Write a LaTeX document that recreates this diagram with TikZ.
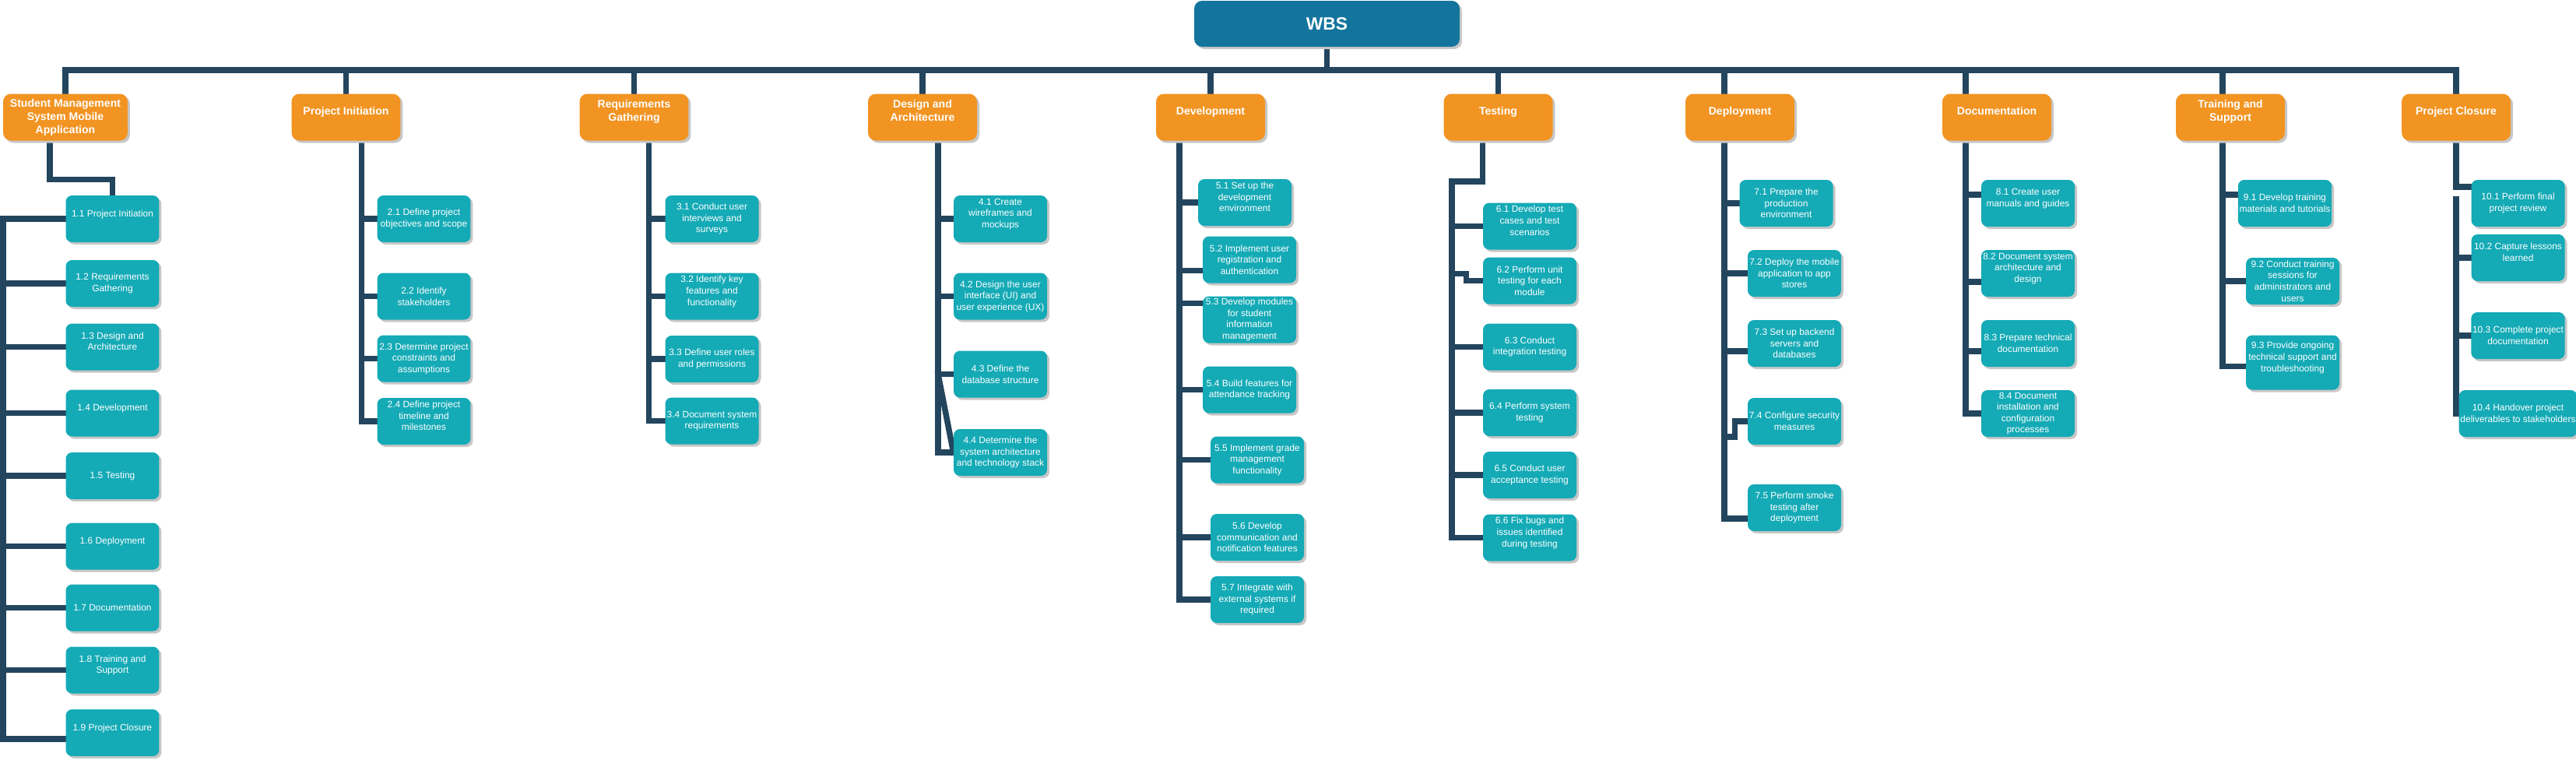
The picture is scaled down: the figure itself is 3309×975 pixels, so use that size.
\documentclass[tikz,border=0pt]{standalone}
\usepackage{fontspec}
\setmainfont{Liberation Sans}
\usetikzlibrary{calc,shadows,backgrounds}
\definecolor{wbsblue}{HTML}{13749D}
\definecolor{phaseorange}{HTML}{F29422}
\definecolor{taskteal}{HTML}{14AAB6}
\definecolor{linknavy}{HTML}{23455E}
\begin{document}
\begin{tikzpicture}[x=0.02cm, y=-0.02cm,
		card/.style={text=white, align=center, inner sep=1pt, drop shadow={shadow xshift=0.06cm, shadow yshift=-0.06cm, fill=black!22, opacity=1}},
		wbsbox/.style={card, fill=wbsblue, rounded corners=0.2cm, minimum width=6.82cm, minimum height=1.18cm, font=\bfseries\fontsize{13}{15}\selectfont},
		phase/.style={card, fill=phaseorange, rounded corners=0.2cm, minimum width=2.8cm, minimum height=1.2cm, font=\bfseries\fontsize{8}{9.7}\selectfont},
		task/.style={card, fill=taskteal, rounded corners=0.16cm, minimum width=2.4cm, minimum height=1.2cm, font=\fontsize{6.8}{8.3}\selectfont},
		link/.style={draw=linknavy, line width=0.15cm, line cap=rect}]
		\useasboundingbox (0,0) rectangle (3309,975);

		\node[wbsbox] (wbs) at (1704.5,30.5) {WBS};

		\node[phase, minimum width=3.2cm] (sm) at (84,150.5) {Student Management\\System Mobile\\Application};
		\node[phase] (pi) at (444.5,150.5) {Project Initiation\\~};
		\node[phase] (rg) at (814.5,150.5) {Requirements\\Gathering\\~};
		\node[phase] (da) at (1185,150.5) {Design and\\Architecture\\~};
		\node[phase] (dev) at (1555,150.5) {Development\\~};
		\node[phase] (test) at (1924.5,150.5) {Testing\\~};
		\node[phase] (dep) at (2235,150.5) {Deployment\\~};
		\node[phase] (doc) at (2565,150.5) {Documentation\\~};
		\node[phase] (ts) at (2865,150.5) {Training and\\Support\\~};
		\node[phase] (pc) at (3155,150.5) {Project Closure\\~};

		\node[task] (s11) at (144.5,281) {1.1 Project Initiation\\~};
		\node[task] (s12) at (144.5,364) {1.2 Requirements\\Gathering};
		\node[task] (s13) at (144.5,445.5) {1.3 Design and\\Architecture\\~};
		\node[task] (s14) at (144.5,530.5) {1.4 Development\\~};
		\node[task] (s15) at (144.5,611) {1.5 Testing};
		\node[task] (s16) at (144.5,701.5) {1.6 Deployment\\~};
		\node[task] (s17) at (144.5,780.5) {1.7 Documentation};
		\node[task] (s18) at (144.5,860.5) {1.8 Training and\\Support\\~};
		\node[task] (s19) at (144.5,941) {1.9 Project Closure\\~};

		\node[task] (p21) at (544.5,281) {2.1 Define project\\objectives and scope};
		\node[task] (p22) at (544.5,380.5) {2.2 Identify\\stakeholders};
		\node[task] (p23) at (544.5,460.5) {2.3 Determine project\\constraints and\\assumptions};
		\node[task] (p24) at (544.5,541) {2.4 Define project\\timeline and\\milestones\\~};

		\node[task] (r31) at (914.5,281) {3.1 Conduct user\\interviews and\\surveys};
		\node[task] (r32) at (914.5,380.5) {3.2 Identify key\\features and\\functionality\\~};
		\node[task] (r33) at (914.5,461) {3.3 Define user roles\\and permissions};
		\node[task] (r34) at (914.5,540.5) {3.4 Document system\\requirements};

		\node[task] (a41) at (1285,281) {4.1 Create\\wireframes and\\mockups\\~};
		\node[task] (a42) at (1285,380.5) {4.2 Design the user\\interface (UI) and\\user experience (UX)};
		\node[task] (a43) at (1285,480.5) {4.3 Define the\\database structure};
		\node[task] (a44) at (1285,581) {4.4 Determine the\\system architecture\\and technology stack};

		\node[task] (e51) at (1599,260) {5.1 Set up the\\development\\environment\\~};
		\node[task] (e52) at (1605,333.5) {5.2 Implement user\\registration and\\authentication};
		\node[task] (e53) at (1605,410.5) {5.3 Develop modules\\for student\\information\\management};
		\node[task] (e54) at (1605,500.5) {5.4 Build features for\\attendance tracking};
		\node[task] (e55) at (1615,590.5) {5.5 Implement grade\\management\\functionality};
		\node[task] (e56) at (1615,690) {5.6 Develop\\communication and\\notification features};
		\node[task] (e57) at (1615,770) {5.7 Integrate with\\external systems if\\required};

		\node[task] (t61) at (1965,290.5) {6.1 Develop test\\cases and test\\scenarios\\~};
		\node[task] (t62) at (1965,360.5) {6.2 Perform unit\\testing for each\\module};
		\node[task] (t63) at (1965,445.5) {6.3 Conduct\\integration testing};
		\node[task] (t64) at (1965,530) {6.4 Perform system\\testing};
		\node[task] (t65) at (1965,610) {6.5 Conduct user\\acceptance testing};
		\node[task] (t66) at (1965,690.5) {6.6 Fix bugs and\\issues identified\\during testing\\~};

		\node[task] (d71) at (2294.5,261) {7.1 Prepare the\\production\\environment};
		\node[task] (d72) at (2305,351) {7.2 Deploy the mobile\\application to app\\stores};
		\node[task] (d73) at (2305,441) {7.3 Set up backend\\servers and\\databases};
		\node[task] (d74) at (2305,541) {7.4 Configure security\\measures};
		\node[task] (d75) at (2305,652) {7.5 Perform smoke\\testing after\\deployment};

		\node[task] (o81) at (2605,261) {8.1 Create user\\manuals and guides\\~};
		\node[task] (o82) at (2605,351) {8.2 Document system\\architecture and\\design\\~};
		\node[task] (o83) at (2605,441) {8.3 Prepare technical\\documentation};
		\node[task] (o84) at (2605,531) {8.4 Document\\installation and\\configuration\\processes};

		\node[task] (g91) at (2935,261) {9.1 Develop training\\materials and tutorials};
		\node[task] (g92) at (2945,361) {9.2 Conduct training\\sessions for\\administrators and\\users};
		\node[task, minimum height=1.4cm] (g93) at (2945,465.5) {9.3 Provide ongoing\\technical support and\\troubleshooting\\~};

		\node[task] (c101) at (3234.5,261) {10.1 Perform final\\project review};
		\node[task] (c102) at (3234.5,331) {10.2 Capture lessons\\learned\\~};
		\node[task] (c103) at (3234.5,431) {10.3 Complete project\\documentation};
		\node[task] (c104) at (3234.5,531) {10.4 Handover project\\deliverables to stakeholders};

		\coordinate (bus) at (1704.5,90);
		\coordinate (sm-t) at (4,281);
		\coordinate (pi-t) at ($(pi.south)+(20,0)$);
		\coordinate (rg-t) at ($(rg.south)+(19,0)$);
		\coordinate (da-t) at ($(da.south)+(20,0)$);
		\coordinate (dev-t) at ($(dev.south)+(-40,0)$);
		\coordinate (test-t) at (1865,233);
		\coordinate (dep-t) at ($(dep.south)+(-20,0)$);
		\coordinate (doc-t) at ($(doc.south)+(-40,0)$);
		\coordinate (ts-t) at ($(ts.south)+(-10,0)$);
		\coordinate (pc-t) at ($(pc.south)+(0,75)$);

		\begin{scope}[on background layer]
			\draw[link] (wbs.south) -- (bus);
			\draw[link] (sm.north) |- (bus) -| (pc.north);
			\draw[link] (pi.north) -- (pi.north |- bus);
			\draw[link] (rg.north) -- (rg.north |- bus);
			\draw[link] (da.north) -- (da.north |- bus);
			\draw[link] (dev.north) -- (dev.north |- bus);
			\draw[link] (test.north) -- (test.north |- bus);
			\draw[link] (dep-t |- dep.north) -- (dep-t |- bus);
			\draw[link] (doc-t |- doc.north) -- (doc-t |- bus);
			\draw[link] (ts-t |- ts.north) -- (ts-t |- bus);

			\draw[link] ($(sm.south)+(-20,0)$) |- ($(s11.north)+(0,-20)$) -- (s11.north);
			\draw[link] (s11.west) -- (sm-t);
			\draw[link] (s12.west) -| (sm-t);
			\draw[link] (s13.west) -| (sm-t);
			\draw[link] (s14.west) -| (sm-t);
			\draw[link] (s15.west) -| (sm-t);
			\draw[link] (s16.west) -| (sm-t);
			\draw[link] (s17.west) -| (sm-t);
			\draw[link] (s18.west) -| (sm-t);
			\draw[link] ($(s19.west)+(0,8)$) -| (sm-t);

			\draw[link] (p21.west) -| (pi-t);
			\draw[link] (p22.west) -| (pi-t);
			\draw[link] (p23.west) -| (pi-t);
			\draw[link] (p24.west) -| (pi-t);

			\draw[link] (r31.west) -| (rg-t);
			\draw[link] (r32.west) -| (rg-t);
			\draw[link] (r33.west) -| (rg-t);
			\draw[link] (r34.west) -| (rg-t);

			\draw[link] (a41.west) -| (da-t);
			\draw[link] (a42.west) -| (da-t);
			\draw[link] (a43.west) -| (da-t);
			\draw[link] (a44.west) -| (da-t);
			\draw[link] (a44.west) -- (a43.west -| da-t);

			\draw[link] (e51.west) -| (dev-t);
			\draw[link] ($(e52.west)+(0,14)$) -| (dev-t);
			\draw[link] ($(e53.west)+(0,-21)$) -| (dev-t);
			\draw[link] (e54.west) -| (dev-t);
			\draw[link] (e55.west) -| (dev-t);
			\draw[link] (e56.west) -| (dev-t);
			\draw[link] (e57.west) -| (dev-t);

			\draw[link] ($(test.south)+(-20,0)$) |- (test-t);
			\draw[link] (t61.west) -| (test-t);
			\draw[link] (t62.west) -- ++(-21,0) -- ++(0,-9) -| (test-t);
			\draw[link] (t63.west) -| (test-t);
			\draw[link] (t64.west) -| (test-t);
			\draw[link] (t65.west) -| (test-t);
			\draw[link] (t66.west) -| (test-t);

			\draw[link] (d71.west) -| (dep-t);
			\draw[link] (d72.west) -| (dep-t);
			\draw[link] ($(d73.west)+(0,10)$) -| (dep-t);
			\draw[link] (d74.west) -- ++(-16,0) -- ++(0,20) -| (dep-t);
			\draw[link] ($(d75.west)+(0,14)$) -| (dep-t);

			\draw[link] ($(o81.west)+(0,-11)$) -| (doc-t);
			\draw[link] ($(o82.west)+(0,11)$) -| (doc-t);
			\draw[link] ($(o83.west)+(0,10)$) -| (doc-t);
			\draw[link] (o84.west) -| (doc-t);

			\draw[link] ($(g91.west)+(0,-11)$) -| (ts-t);
			\draw[link] (g92.west) -| (ts-t);
			\draw[link] ($(g93.west)+(0,5)$) -| (ts-t);

			\draw[link] (pc.south) |- ($(c101.west)+(0,-21)$);
			\draw[link] (c102.west) -| (pc-t);
			\draw[link] (c103.west) -| (pc-t);
			\draw[link] (c104.west) -| (pc-t);
		\end{scope}
	\end{tikzpicture}
\end{document}
